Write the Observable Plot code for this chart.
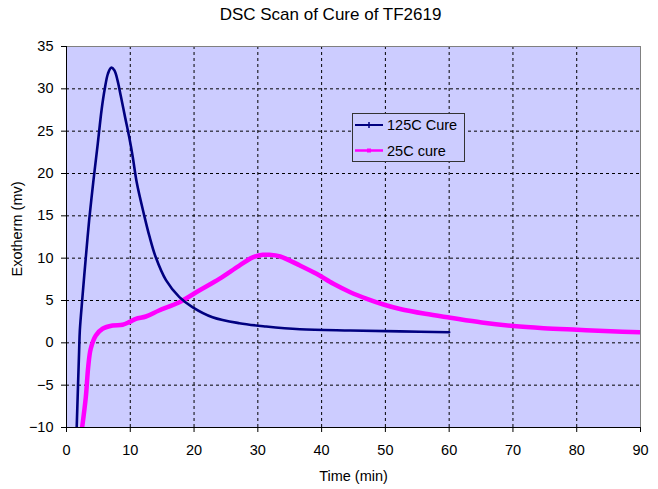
<!DOCTYPE html>
<html>
<head>
<meta charset="utf-8">
<script src="https://cdn.jsdelivr.net/npm/d3@7"></script>
<script src="https://cdn.jsdelivr.net/npm/@observablehq/plot@0.6"></script>
<style>
  html, body { margin: 0; padding: 0; background: white; }
  #chart { position: relative; width: 658px; height: 489px; }
</style>
</head>
<body>
<div id="chart"></div>
<script>
const titleText = "DSC Scan of Cure of TF2619";
const xLabel = "Time (min)";
const yLabel = "Exotherm (mv)";
const seriesNames = ["125C Cure", "25C cure"];
const seriesColors = ["#000080", "#FF00FF"];

const xTicks = [0, 10, 20, 30, 40, 50, 60, 70, 80, 90];
const yTicks = [-10, -5, 0, 5, 10, 15, 20, 25, 30, 35];

const time125 = [1.6, 1.98, 2.09, 2.5, 3.03, 3.55, 4.2, 4.9, 5.5, 6.0, 6.5, 7.0, 7.5, 8.0, 8.5, 9.2, 9.83, 10.4, 11.0, 12.2, 13.0, 14.0, 15.6, 17.7, 19.8, 22.9, 27.1, 31.3, 36.6, 44.5, 52.3, 60.0];
const exo125  = [-10, -0.9, 1.46, 5.4, 10.1, 14.45, 19.0, 23.5, 27.5, 30.0, 31.8, 32.5, 32.2, 31.0, 29.2, 26.6, 24.3, 21.9, 19.0, 15.0, 12.6, 10.1, 7.4, 5.4, 4.2, 3.03, 2.32, 1.93, 1.6, 1.45, 1.35, 1.25];

const time25 = [2.45, 3.03, 3.4, 3.8, 4.6, 5.65, 7.22, 8.79, 9.83, 10.88, 12.45, 14.5, 17.7, 20.8, 23.96, 27.1, 29.2, 30.8, 31.65, 33.5, 36.6, 39.2, 41.85, 44.5, 47.1, 49.7, 52.3, 56.25, 60.2, 65.1, 70.1, 74.8, 80.1, 85.3, 90.0];
const exo25  = [-10, -6.4, -2.87, -0.7, 0.87, 1.66, 2.05, 2.13, 2.44, 2.84, 3.11, 3.82, 4.8, 6.18, 7.56, 9.13, 10.1, 10.4, 10.4, 10.2, 9.13, 8.15, 6.97, 5.98, 5.2, 4.53, 4.0, 3.43, 2.96, 2.4, 1.98, 1.73, 1.54, 1.36, 1.26];

const d125 = time125.map((t, i) => ({t, v: exo125[i]}));
const d25 = time25.map((t, i) => ({t, v: exo25[i]}));

const font = "'Liberation Sans', Arial, sans-serif";

const plot = Plot.plot({
  width: 658,
  height: 489,
  marginLeft: 66,
  marginRight: 18,
  marginTop: 46,
  marginBottom: 62,
  style: {fontFamily: font, fontSize: "14.5px", background: "white", color: "black"},
  x: {domain: [0, 90]},
  y: {domain: [-10, 35]},
  marks: [
    Plot.frame({fill: "#CCCCFF", stroke: null}),
    Plot.gridX(xTicks.slice(1, -1), {stroke: "black", strokeOpacity: 1, strokeWidth: 1, strokeDasharray: "3,3"}),
    Plot.gridY(yTicks.slice(1, -1), {stroke: "black", strokeOpacity: 1, strokeWidth: 1, strokeDasharray: "3,3"}),
    Plot.frame({stroke: "#808080", strokeWidth: 1}),
    Plot.ruleX([xTicks[0]], {stroke: "black"}),
    Plot.ruleY([yTicks[0]], {stroke: "black"}),
    Plot.axisX(xTicks, {tickSize: 5, tickPadding: 12, label: null, fontSize: 14.5}),
    Plot.axisY(yTicks, {tickSize: 5, tickPadding: 8, label: null, fontSize: 14.5}),
    Plot.line(d25, {x: "t", y: "v", stroke: seriesColors[1], strokeWidth: 4.5, curve: "catmull-rom", clip: true}),
    Plot.line(d125, {x: "t", y: "v", stroke: seriesColors[0], strokeWidth: 2.6, curve: "catmull-rom", clip: true}),
    Plot.text([titleText], {frameAnchor: "top", lineAnchor: "middle", textAnchor: "middle", dy: -32, dx: -23, fontSize: 17}),
    Plot.text([xLabel], {frameAnchor: "bottom", lineAnchor: "middle", textAnchor: "middle", dy: 49, fontSize: 14.5}),
    Plot.text([yLabel], {frameAnchor: "left", lineAnchor: "middle", textAnchor: "middle", dx: -49, dy: -8, rotate: -90, fontSize: 14.5})
  ]
});

document.getElementById("chart").appendChild(plot);

// Legend box
const svg = d3.select(plot);
const lg = svg.append("g").attr("font-family", font).attr("font-size", 14.5).attr("text-anchor", "start");
lg.append("rect").attr("x", 352.5).attr("y", 113.5).attr("width", 112).attr("height", 48)
  .attr("fill", "#CCCCFF").attr("stroke", "#333").attr("stroke-width", 1);
const rowsY = [125, 150.5];
seriesNames.forEach((name, i) => {
  const y = rowsY[i];
  lg.append("line").attr("x1", 355).attr("x2", 383).attr("y1", y).attr("y2", y)
    .attr("stroke", seriesColors[i]).attr("stroke-width", i === 0 ? 2 : 2.5);
  if (i === 0) {
    lg.append("line").attr("x1", 369).attr("x2", 369).attr("y1", y - 3).attr("y2", y + 3)
      .attr("stroke", seriesColors[i]).attr("stroke-width", 1.5);
  } else {
    lg.append("rect").attr("x", 367).attr("y", y - 2).attr("width", 4).attr("height", 4)
      .attr("fill", seriesColors[i]);
  }
  lg.append("text").attr("x", 387).attr("y", y).attr("dy", "0.35em").attr("fill", "black").text(name);
});
</script>
</body>
</html>
